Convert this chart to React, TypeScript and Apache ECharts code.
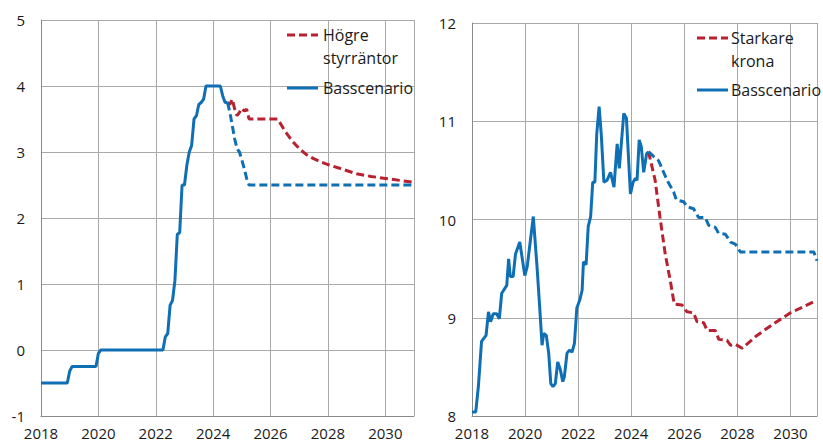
import React, { useEffect, useRef } from "react";
import * as echarts from "echarts";

// ---------- Data ----------
// Left panel: policy rate (per cent), monthly from Jan 2018 to Jul 2024
const policyStartYear = 2018;
const policyRateHistory: number[] = [
  // 2018
  -0.5, -0.5, -0.5, -0.5, -0.5, -0.5, -0.5, -0.5, -0.5, -0.5, -0.5, -0.5,
  // 2019
  -0.32, -0.25, -0.25, -0.25, -0.25, -0.25, -0.25, -0.25, -0.25, -0.25, -0.25, -0.25,
  // 2020
  -0.05, 0, 0, 0, 0, 0, 0, 0, 0, 0, 0, 0,
  // 2021
  0, 0, 0, 0, 0, 0, 0, 0, 0, 0, 0, 0,
  // 2022
  0, 0, 0, 0, 0.2, 0.25, 0.68, 0.75, 1.05, 1.75, 1.78, 2.5,
  // 2023
  2.5, 2.8, 3.0, 3.1, 3.5, 3.55, 3.72, 3.75, 3.8, 4.0, 4.0, 4.0,
  // 2024
  4.0, 4.0, 4.0, 4.0, 3.85, 3.75, 3.75,
];
const policyBaseForecast: [number, number][] = [
  [2024.5, 3.75], [2024.583, 3.6], [2024.667, 3.4], [2024.75, 3.2], [2024.833, 3.05],
  [2024.917, 3.0], [2025.0, 2.88], [2025.083, 2.75], [2025.167, 2.6], [2025.25, 2.5],
  [2031.0, 2.5],
];
const policyHigherRates: [number, number][] = [
  [2024.5, 3.75], [2024.583, 3.72], [2024.667, 3.8], [2024.75, 3.65], [2024.833, 3.55],
  [2024.917, 3.6], [2025.0, 3.66], [2025.083, 3.62], [2025.167, 3.65], [2025.25, 3.5],
  [2026.25, 3.5], [2026.5, 3.32], [2026.75, 3.17], [2027.0, 3.05], [2027.25, 2.96],
  [2027.5, 2.9], [2027.75, 2.85], [2028.0, 2.81], [2028.5, 2.74], [2029.0, 2.67],
  [2029.5, 2.63], [2030.0, 2.6], [2030.5, 2.57], [2031.0, 2.54],
];

// Right panel: exchange rate (kronor)
const fxHistory: [number, number][] = [
  [2018.0, 8.04], [2018.14, 8.04], [2018.24, 8.3], [2018.36, 8.76], [2018.53, 8.82],
  [2018.62, 9.06], [2018.7, 8.96], [2018.8, 9.04], [2018.93, 9.04], [2019.03, 8.99],
  [2019.12, 9.25], [2019.31, 9.33], [2019.38, 9.6], [2019.44, 9.42], [2019.55, 9.42],
  [2019.64, 9.65], [2019.8, 9.77], [2019.99, 9.43], [2020.08, 9.52], [2020.31, 10.03],
  [2020.45, 9.52], [2020.55, 9.11], [2020.64, 8.72], [2020.7, 8.84], [2020.8, 8.82],
  [2020.89, 8.64], [2020.97, 8.33], [2021.05, 8.3], [2021.14, 8.33], [2021.23, 8.55],
  [2021.33, 8.47], [2021.42, 8.35], [2021.48, 8.4], [2021.58, 8.64], [2021.67, 8.67],
  [2021.77, 8.65], [2021.86, 8.74], [2021.95, 9.1], [2022.06, 9.18], [2022.15, 9.28],
  [2022.2, 9.57], [2022.3, 9.54], [2022.38, 9.93], [2022.47, 10.03], [2022.55, 10.38],
  [2022.63, 10.38], [2022.7, 10.87], [2022.79, 11.15], [2022.87, 10.87], [2022.97, 10.38],
  [2023.09, 10.4], [2023.22, 10.48], [2023.35, 10.33], [2023.47, 10.77], [2023.55, 10.52],
  [2023.72, 11.08], [2023.82, 11.03], [2023.97, 10.26], [2024.07, 10.38], [2024.16, 10.42],
  [2024.22, 10.4], [2024.3, 10.81], [2024.38, 10.74], [2024.47, 10.48], [2024.58, 10.67],
  [2024.65, 10.69],
];
const fxBaseForecast: [number, number][] = [
  [2024.65, 10.69], [2024.85, 10.64], [2025.03, 10.6], [2025.35, 10.4], [2025.6, 10.28],
  [2025.7, 10.2], [2025.98, 10.18], [2026.1, 10.13], [2026.35, 10.11], [2026.54, 10.02],
  [2026.79, 10.02], [2026.92, 9.94], [2027.17, 9.92], [2027.29, 9.86], [2027.55, 9.85],
  [2027.74, 9.77], [2027.92, 9.75], [2028.11, 9.67], [2030.88, 9.67], [2031.0, 9.58],
];
const fxStrongerKrona: [number, number][] = [
  [2024.65, 10.69], [2024.9, 10.4], [2025.08, 10.03], [2025.28, 9.65], [2025.47, 9.38],
  [2025.62, 9.14], [2025.91, 9.13], [2026.1, 9.06], [2026.35, 9.05], [2026.48, 8.96],
  [2026.73, 8.95], [2026.86, 8.87], [2027.17, 8.87], [2027.3, 8.78], [2027.61, 8.77],
  [2027.74, 8.72], [2027.92, 8.73], [2028.18, 8.69], [2028.74, 8.82], [2029.37, 8.94],
  [2030.0, 9.05], [2030.94, 9.17],
];

const xTicks = { min: 2018, max: 2031, interval: 2 };
const leftY = { min: -1, max: 5, interval: 1 };
const rightY = { min: 8, max: 12, interval: 1 };

const seriesNames = {
  base: "Basscenario",
  higher: "Högre styrräntor",
  stronger: "Starkare krona",
};

// ---------- Styles ----------
const BLUE = "#0f6fb5";
const RED = "#b8212f";
const GRID_COLOR = "#a9a9a9";
const AXIS_COLOR = "#8a8a8a";
const TEXT = "#1a1a1a";
const FONT = "'Open Sans', 'Noto Sans', sans-serif";
const DASH = [8, 4];

export default function App() {
  const ref = useRef<HTMLDivElement>(null);

  useEffect(() => {
    if (!ref.current) return;
    const chart = echarts.init(ref.current, undefined, { renderer: "svg" });

    const policyHist: [number, number][] = policyRateHistory.map((v, i) => [
      policyStartYear + i / 12,
      v,
    ]);

    const xAxisBase = (gridIndex: number) => ({
      type: "value",
      gridIndex,
      min: xTicks.min,
      max: xTicks.max,
      interval: xTicks.interval,
      axisLine: { show: true, onZero: false, lineStyle: { color: AXIS_COLOR, width: 1 } },
      axisTick: { show: false },
      axisLabel: {
        margin: 8,
        fontSize: 15,
        lineHeight: 17,
        color: TEXT,
        fontFamily: FONT,
        showMaxLabel: false,
        formatter: (v: number) => (v === xTicks.max ? "" : String(v)),
      },
      splitLine: { show: true, lineStyle: { color: GRID_COLOR, width: 1 } },
    });

    const yAxisBase = (gridIndex: number, cfg: { min: number; max: number; interval: number }) => ({
      type: "value",
      gridIndex,
      min: cfg.min,
      max: cfg.max,
      interval: cfg.interval,
      axisLine: { show: true, onZero: false, lineStyle: { color: AXIS_COLOR, width: 1 } },
      axisTick: { show: false },
      axisLabel: {
        margin: 16,
        fontSize: 15,
        color: TEXT,
        fontFamily: FONT,
      },
      splitLine: { show: true, lineStyle: { color: GRID_COLOR, width: 1 } },
    });

    const lineSeries = (
      name: string,
      data: [number, number][],
      color: string,
      dashed: boolean,
      idx: number,
      z: number
    ) => ({
      type: "line",
      name,
      xAxisIndex: idx,
      yAxisIndex: idx,
      data,
      showSymbol: false,
      symbol: "none",
      z,
      lineStyle: { color, width: 3, type: dashed ? DASH : "solid", cap: "butt" },
      emphasis: { disabled: true },
    });

    const legendLine = (x: number, y: number, color: string, dashed: boolean) => ({
      type: "line",
      shape: { x1: x, y1: y, x2: x + 31, y2: y },
      style: { stroke: color, lineWidth: 3, lineDash: dashed ? DASH : undefined },
      z: 100,
    });
    const legendText = (x: number, y: number, text: string) => ({
      type: "text",
      x,
      y,
      style: {
        text,
        fill: TEXT,
        font: `16px ${FONT}`,
        textVerticalAlign: "middle",
        verticalAlign: "middle",
      },
      z: 100,
    });

    chart.setOption({
      animation: false,
      backgroundColor: "#ffffff",
      grid: [
        { left: 41, top: 20, width: 373, height: 396, containLabel: false },
        { left: 472, top: 23, width: 345, height: 393, containLabel: false },
      ],
      xAxis: [xAxisBase(0), xAxisBase(1)],
      yAxis: [yAxisBase(0, leftY), yAxisBase(1, rightY)],
      series: [
        lineSeries(seriesNames.higher, policyHigherRates, RED, true, 0, 3),
        lineSeries(seriesNames.base, policyBaseForecast, BLUE, true, 0, 4),
        lineSeries(seriesNames.base, policyHist, BLUE, false, 0, 5),
        lineSeries(seriesNames.stronger, fxStrongerKrona, RED, true, 1, 3),
        lineSeries(seriesNames.base, fxBaseForecast, BLUE, true, 1, 4),
        lineSeries(seriesNames.base, fxHistory, BLUE, false, 1, 5),
      ],
      graphic: [
        legendLine(287, 35, RED, true),
        legendText(323, 35, "Högre"),
        legendText(323, 58, "styrräntor"),
        legendLine(287, 88, BLUE, false),
        legendText(323, 88, "Basscenario"),
        legendLine(697, 38, RED, true),
        legendText(731, 38, "Starkare"),
        legendText(731, 61, "krona"),
        legendLine(697, 90, BLUE, false),
        legendText(731, 90, "Basscenario"),
      ],
    });

    return () => chart.dispose();
  }, []);

  return (
    <div
      ref={ref}
      style={{ position: "fixed", left: 0, top: 0, width: 823, height: 443, background: "#fff" }}
    />
  );
}
